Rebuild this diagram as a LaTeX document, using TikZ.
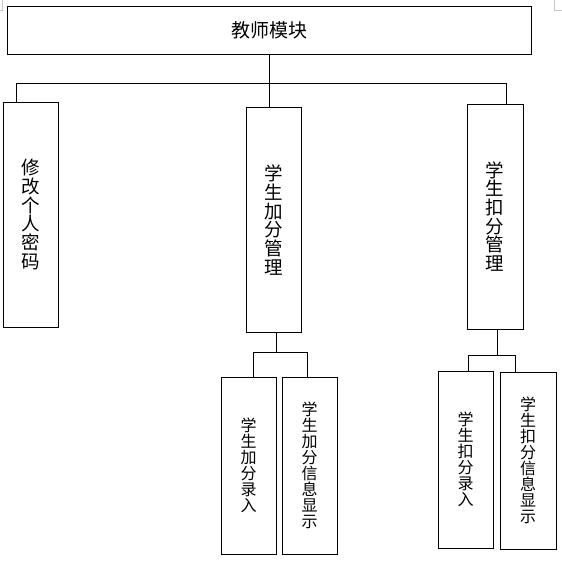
\documentclass[tikz,border=0pt]{standalone}
\usepackage{fontspec}
\setmainfont{Noto Sans CJK SC}
\usetikzlibrary{calc}

\begin{document}
\begin{tikzpicture}[x=1pt,y=-1pt,
    box/.style={draw, line width=0.9pt, inner sep=0pt, minimum width=55pt, align=center},
    tallbox/.style={box, minimum height=225pt, font=\fontsize{18.5}{18.7}\selectfont},
    shortbox/.style={box, minimum height=177pt, font=\fontsize{16}{16}\selectfont},
    conn/.style={line width=0.8pt}]
    \useasboundingbox (0,0) rectangle (562,560);
    % page corner marks
    \draw[gray!45, line width=0.6pt] (2,0) -- (2,10) -- (0,10); \draw[gray!45, line width=0.6pt] (554,0) -- (554,10) -- (562,10);

    \node[box, minimum width=524pt, minimum height=48pt, font=\fontsize{19}{20}\selectfont] (teacher) at (269,30) {教师模块};

    \node[tallbox] (pwd) at (30.5,214.5) {修\\改\\个\\人\\密\\码};
    \node[tallbox] (addmg) at (273.5,220) {学\\生\\加\\分\\管\\理};
    \node[tallbox, minimum width=56pt] (submg) at (495,216.5) {学\\生\\扣\\分\\管\\理};

    \node[shortbox] (addin) at (248.5,465.5) {学\\生\\加\\分\\录\\入};
    \node[shortbox] (addshow) at (309.5,465.5) {学\\生\\加\\分\\信\\息\\显\\示};
    \node[shortbox] (subin) at (465.5,459.5) {学\\生\\扣\\分\\录\\入};
    \node[shortbox, minimum width=56pt] (subshow) at (528,460.5) {学\\生\\扣\\分\\信\\息\\显\\示};

    % top level
    \draw[conn] (teacher.south) -- (teacher.south |- addmg.north);
    \draw[conn] ($(pwd.north west)!.25!(pwd.north east)$) |- ($(teacher.south)+(0,29)$) -| ($(submg.north west)!.7!(submg.north east)$);

    % add branch
    \draw[conn] ($(addmg.south west)!.55!(addmg.south east)$) -- ++(0,19);
    \draw[conn] ($(addin.north west)!.58!(addin.north east)$) |- ($(addmg.south)+(0,19)$) -| ($(addshow.north west)!.47!(addshow.north east)$);

    % deduct branch
    \draw[conn] ($(submg.south west)!.54!(submg.south east)$) -- ++(0,26);
    \draw[conn] ($(subin.north west)!.545!(subin.north east)$) |- ($(submg.south)+(0,26)$) -| ($(subshow.north west)!.27!(subshow.north east)$);
\end{tikzpicture}
\end{document}
